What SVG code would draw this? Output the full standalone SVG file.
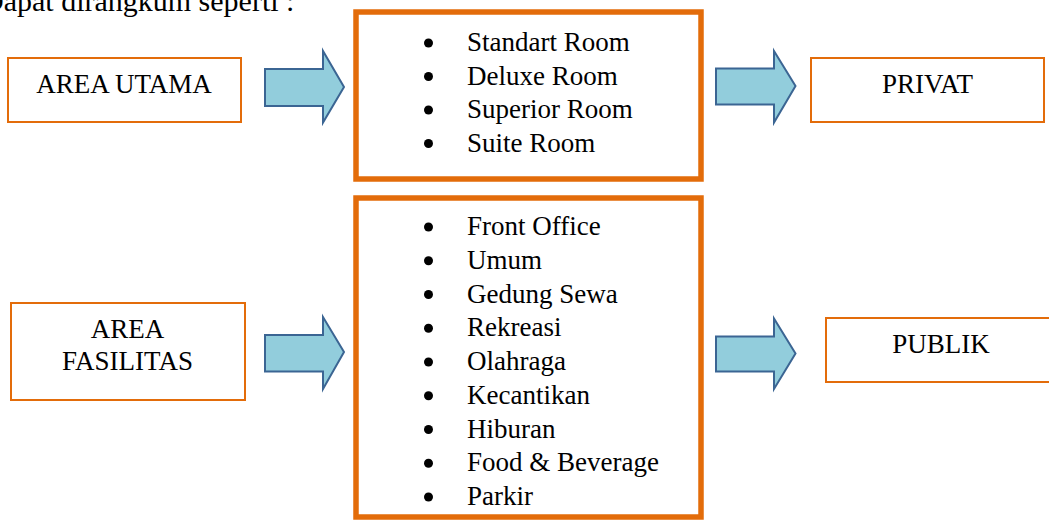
<svg xmlns="http://www.w3.org/2000/svg" width="1049" height="520" viewBox="0 0 1049 520">
<style>
text{font-family:"Liberation Serif","Times New Roman",serif;font-size:27px;fill:#000}
.c{text-anchor:middle}
.thin{fill:#fff;stroke:#E36C0A;stroke-width:2}
.thick{fill:#fff;stroke:#E36C0A;stroke-width:5.5}
.arrow{fill:#92CDDC;stroke:#3B6593;stroke-width:2;stroke-linejoin:miter}
.b{fill:#000}
</style>
<rect width="1049" height="520" fill="#fff"/>
<text x="-18" y="11" style="font-size:30px">Dapat dirangkum seperti :</text>

<g id="area-utama">
<rect class="thin" x="8" y="58" width="233" height="64"/>
<text class="c" x="124" y="93">AREA UTAMA</text>
</g>

<g id="kamar">
<rect class="thick" x="356" y="12" width="345" height="167"/>
<circle class="b" cx="428.5" cy="43" r="4.5"/>
<circle class="b" cx="428.5" cy="76.5" r="4.5"/>
<circle class="b" cx="428.5" cy="110" r="4.5"/>
<circle class="b" cx="428.5" cy="143.5" r="4.5"/>
<text x="467" y="51">Standart Room</text>
<text x="467" y="84.5">Deluxe Room</text>
<text x="467" y="118">Superior Room</text>
<text x="467" y="151.5">Suite Room</text>
</g>

<g id="privat">
<rect class="thin" x="811" y="58" width="233" height="64"/>
<text class="c" x="927.5" y="93">PRIVAT</text>
</g>

<g id="area-fasilitas">
<rect class="thin" x="11" y="303" width="234" height="97"/>
<text class="c" x="127.5" y="338">AREA</text>
<text class="c" x="127.5" y="370">FASILITAS</text>
</g>

<g id="fasilitas">
<rect class="thick" x="356" y="198" width="345" height="319"/>
<circle class="b" cx="428.5" cy="227" r="4.5"/>
<circle class="b" cx="428.5" cy="260.75" r="4.5"/>
<circle class="b" cx="428.5" cy="294.5" r="4.5"/>
<circle class="b" cx="428.5" cy="328.25" r="4.5"/>
<circle class="b" cx="428.5" cy="362" r="4.5"/>
<circle class="b" cx="428.5" cy="395.75" r="4.5"/>
<circle class="b" cx="428.5" cy="429.5" r="4.5"/>
<circle class="b" cx="428.5" cy="463.25" r="4.5"/>
<circle class="b" cx="428.5" cy="497" r="4.5"/>
<text x="467" y="235">Front Office</text>
<text x="467" y="268.75">Umum</text>
<text x="467" y="302.5">Gedung Sewa</text>
<text x="467" y="336.25">Rekreasi</text>
<text x="467" y="370">Olahraga</text>
<text x="467" y="403.75">Kecantikan</text>
<text x="467" y="437.5">Hiburan</text>
<text x="467" y="471.25">Food &amp; Beverage</text>
<text x="467" y="505">Parkir</text>
</g>

<g id="publik">
<rect class="thin" x="826" y="318" width="235" height="64"/>
<text class="c" x="941" y="353">PUBLIK</text>
</g>

<g id="connectors">
<polygon class="arrow" points="265,69 323,69 323,51 344,87 323,122.5 323,106 265,106"/>
<polygon class="arrow" points="716,68.5 774,68.5 774,51 795.5,86 774,122.5 774,104.5 716,104.5"/>
<polygon class="arrow" points="265,335 323,335 323,317 344,352 323,389 323,371.5 265,371.5"/>
<polygon class="arrow" points="716,336.5 774,336.5 774,318.5 795.5,353.5 774,389 774,371.5 716,371.5"/>
</g>
</svg>
